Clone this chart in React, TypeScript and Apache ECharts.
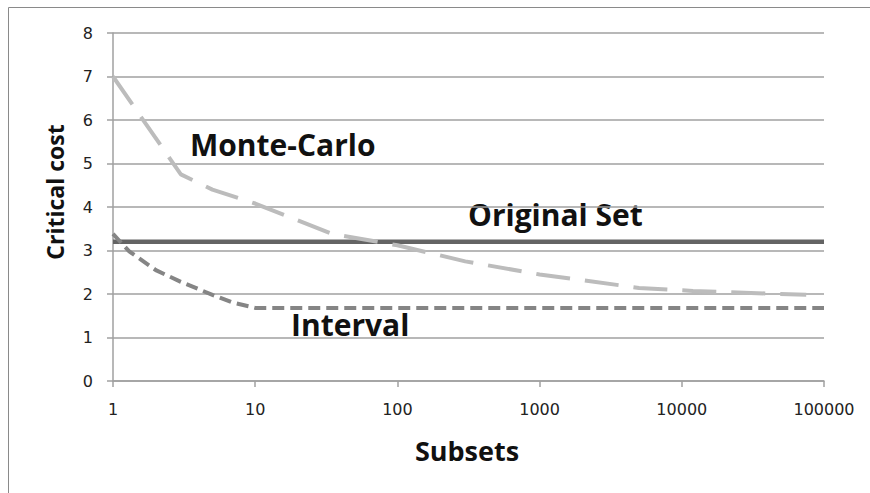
import React, { useEffect, useRef } from "react";
import * as echarts from "echarts";

const xTickLabels = ["1", "10", "100", "1000", "10000", "100000"];

const monteCarloX = [1, 3, 5, 10, 35, 100, 300, 1000, 5000, 12000, 75000];
const monteCarloY = [7.0, 4.75, 4.4, 4.08, 3.38, 3.12, 2.75, 2.45, 2.14, 2.07, 1.98];

const intervalX = [1, 1.3, 2, 3, 5, 7, 10, 100, 1000, 10000, 100000];
const intervalY = [3.38, 2.98, 2.55, 2.28, 1.98, 1.8, 1.68, 1.68, 1.68, 1.68, 1.68];

const originalX = [1, 100000];
const originalY = [3.2, 3.2];

const seriesNames = ["Monte-Carlo", "Original Set", "Interval"];

const zip = (xs: number[], ys: number[]) => xs.map((x, i) => [x, ys[i]]);

export default function App() {
  const ref = useRef<HTMLDivElement>(null);
  useEffect(() => {
    if (!ref.current) return;
    const chart = echarts.init(ref.current, null, { renderer: "svg" });
    const grid = "#a0a0a0";
    const labelFont = "DejaVu Sans";
    const boldFont = "Open Sans";
    chart.setOption({
      animation: false,
      backgroundColor: "#ffffff",
      grid: { left: 113, right: 46, top: 33, bottom: 112 },
      xAxis: {
        type: "log",
        logBase: 10,
        min: 1,
        max: 100000,
        axisLine: { show: true, lineStyle: { color: grid, width: 1.5 } },
        axisTick: { show: true, length: 6, lineStyle: { color: grid, width: 1.5 } },
        splitLine: { show: false },
        axisLabel: {
          margin: 20,
          fontFamily: labelFont,
          fontSize: 16,
          color: "#222",
          formatter: (v: number) => xTickLabels[Math.round(Math.log10(v))] ?? "",
        },
      },
      yAxis: {
        type: "value",
        min: 0,
        max: 8,
        interval: 1,
        axisLine: { show: true, lineStyle: { color: grid, width: 1.5 } },
        axisTick: { show: true, length: 6, lineStyle: { color: grid, width: 1.5 } },
        splitLine: { show: true, lineStyle: { color: grid, width: 1.5 } },
        axisLabel: { margin: 20, fontFamily: labelFont, fontSize: 16, color: "#222" },
      },
      series: [
        {
          name: seriesNames[0],
          type: "line",
          data: zip(monteCarloX, monteCarloY),
          showSymbol: false,
          lineStyle: { color: "#bcbcbc", width: 4, type: [34, 15] },
          z: 3,
        },
        {
          name: seriesNames[1],
          type: "line",
          data: zip(originalX, originalY),
          showSymbol: false,
          lineStyle: { color: "#646464", width: 4.5, type: "solid" },
          z: 2,
        },
        {
          name: seriesNames[2],
          type: "line",
          data: zip(intervalX, intervalY),
          showSymbol: false,
          lineStyle: { color: "#858585", width: 4, type: [12, 6] },
          z: 4,
        },
      ],
      graphic: [
        {
          type: "rect",
          shape: { x: 8.5, y: 7.5, width: 1000, height: 1000 },
          style: { fill: "none", stroke: "#8a8a8a", lineWidth: 1 },
          silent: true,
        },
        {
          type: "text",
          x: 55,
          y: 192,
          rotation: Math.PI / 2,
          style: {
            text: "Critical cost",
            font: `bold 23px "${boldFont}"`,
            fill: "#111",
            align: "center",
            verticalAlign: "middle",
          },
        },
        {
          type: "text",
          x: 467,
          y: 450,
          style: {
            text: "Subsets",
            font: `bold 27px "${boldFont}"`,
            fill: "#111",
            align: "center",
            verticalAlign: "middle",
          },
        },
        {
          type: "text",
          x: 190,
          y: 144,
          style: {
            text: seriesNames[0],
            font: `bold 30px "${boldFont}"`,
            fill: "#111",
            align: "left",
            verticalAlign: "middle",
          },
        },
        {
          type: "text",
          x: 468,
          y: 214,
          style: {
            text: seriesNames[1],
            font: `bold 30px "${boldFont}"`,
            fill: "#111",
            align: "left",
            verticalAlign: "middle",
          },
        },
        {
          type: "text",
          x: 291,
          y: 324,
          style: {
            text: seriesNames[2],
            font: `bold 30px "${boldFont}"`,
            fill: "#111",
            align: "left",
            verticalAlign: "middle",
          },
        },
      ],
    });
    return () => chart.dispose();
  }, []);
  return (
    <div
      ref={ref}
      style={{ position: "fixed", left: 0, top: 0, width: 870, height: 493, background: "#fff" }}
    />
  );
}
